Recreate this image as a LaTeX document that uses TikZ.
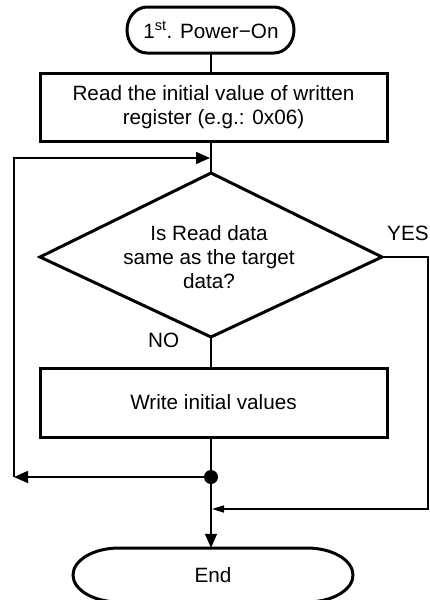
\documentclass[tikz,border=0pt]{standalone}
\usepackage{fontspec}
\setmainfont{Liberation Sans}
\usetikzlibrary{arrows.meta}
\tikzset{
  procbox/.style={draw, line width=3pt, inner sep=0pt, align=center,
    minimum width=347pt},
  textonly/.style={inner sep=0pt, align=center},
  termline/.style={line width=3pt},
  conn/.style={line width=1.6pt},
  bigtip/.style={-{Triangle[length=14pt,width=12pt]}},
  smalltip/.style={-{Triangle[length=12pt,width=7pt]}},
  lbl/.style={inner sep=0pt, anchor=base west},
}
\begin{document}
\begin{tikzpicture}[x=1pt,y=-1pt,font=\fontsize{20.7}{24}\selectfont]
\useasboundingbox (0,0) rectangle (430,600);

% start terminal
\node[textonly, minimum width=167pt, minimum height=46pt] (start) at (211,30)
  {1\textsuperscript{st}. Power−On};
\draw[termline] (147,7) -- (274,7)
  .. controls (285,7) and (294,17.3) .. (294,30)
  .. controls (294,42.7) and (285,53) .. (274,53) -- (147,53)
  .. controls (136,53) and (127,42.7) .. (127,30)
  .. controls (127,17.3) and (136,7) .. (147,7) -- cycle;

% read step
\node[procbox, minimum height=68pt] (read) at (213.5,107)
  {Read the initial value of written\\register (e.g.: 0x06)};

% decision
\coordinate (dtop) at (211,173);
\coordinate (dright) at (382,257);
\coordinate (dbot) at (211,337);
\coordinate (dleft) at (40,257);
\draw[line width=3pt, line join=miter] (dtop) -- (dright) -- (dbot) -- (dleft) -- cycle;
\node[textonly] (decision) at (209,257) {Is Read data\\same as the target\\data?};

% write step
\node[procbox, minimum height=69pt] (write) at (213.5,402.5) {Write initial values};

% end terminal
\node[textonly, minimum width=280pt, minimum height=54pt] (end) at (213,575) {End};
\draw[termline] (119,548) -- (307,548)
  .. controls (332.4,548) and (353,560.1) .. (353,575)
  .. controls (353,589.9) and (332.4,602) .. (307,602) -- (119,602)
  .. controls (93.6,602) and (73,589.9) .. (73,575)
  .. controls (73,560.1) and (93.6,548) .. (119,548) -- cycle;

% junction and routing points
\node[circle, fill, inner sep=0pt, minimum size=14pt] (dot) at (211,477) {};
\coordinate (lb) at (14,477);
\coordinate (lt) at (14,158);
\coordinate (jn) at (210,158);
\coordinate (yr) at (428,257);
\coordinate (yb) at (428,509);
\coordinate (ym) at (212,509);

% connectors (kept vertical on the x = 211 spine)
\draw[conn] (start.south) -- (start.south |- read.north);
\draw[conn] (dtop |- read.south) -- (dtop);
\draw[conn] (dbot) -- (dbot |- write.north);
\draw[conn] (dot |- write.south) -- (dot.center);
\draw[conn, bigtip] (dot.center) -- (dot |- end.north);
\draw[conn, bigtip] (dot) -- (lb);
\draw[conn, bigtip] (lb) -- (lt) -- (jn);
\draw[conn, smalltip] (dright) -- (yr) -- (yb) -- (ym);

% branch labels
\node[lbl] (yes) at (387,240) {YES};
\node[lbl] (no) at (148,347) {NO};
\end{tikzpicture}
\end{document}
